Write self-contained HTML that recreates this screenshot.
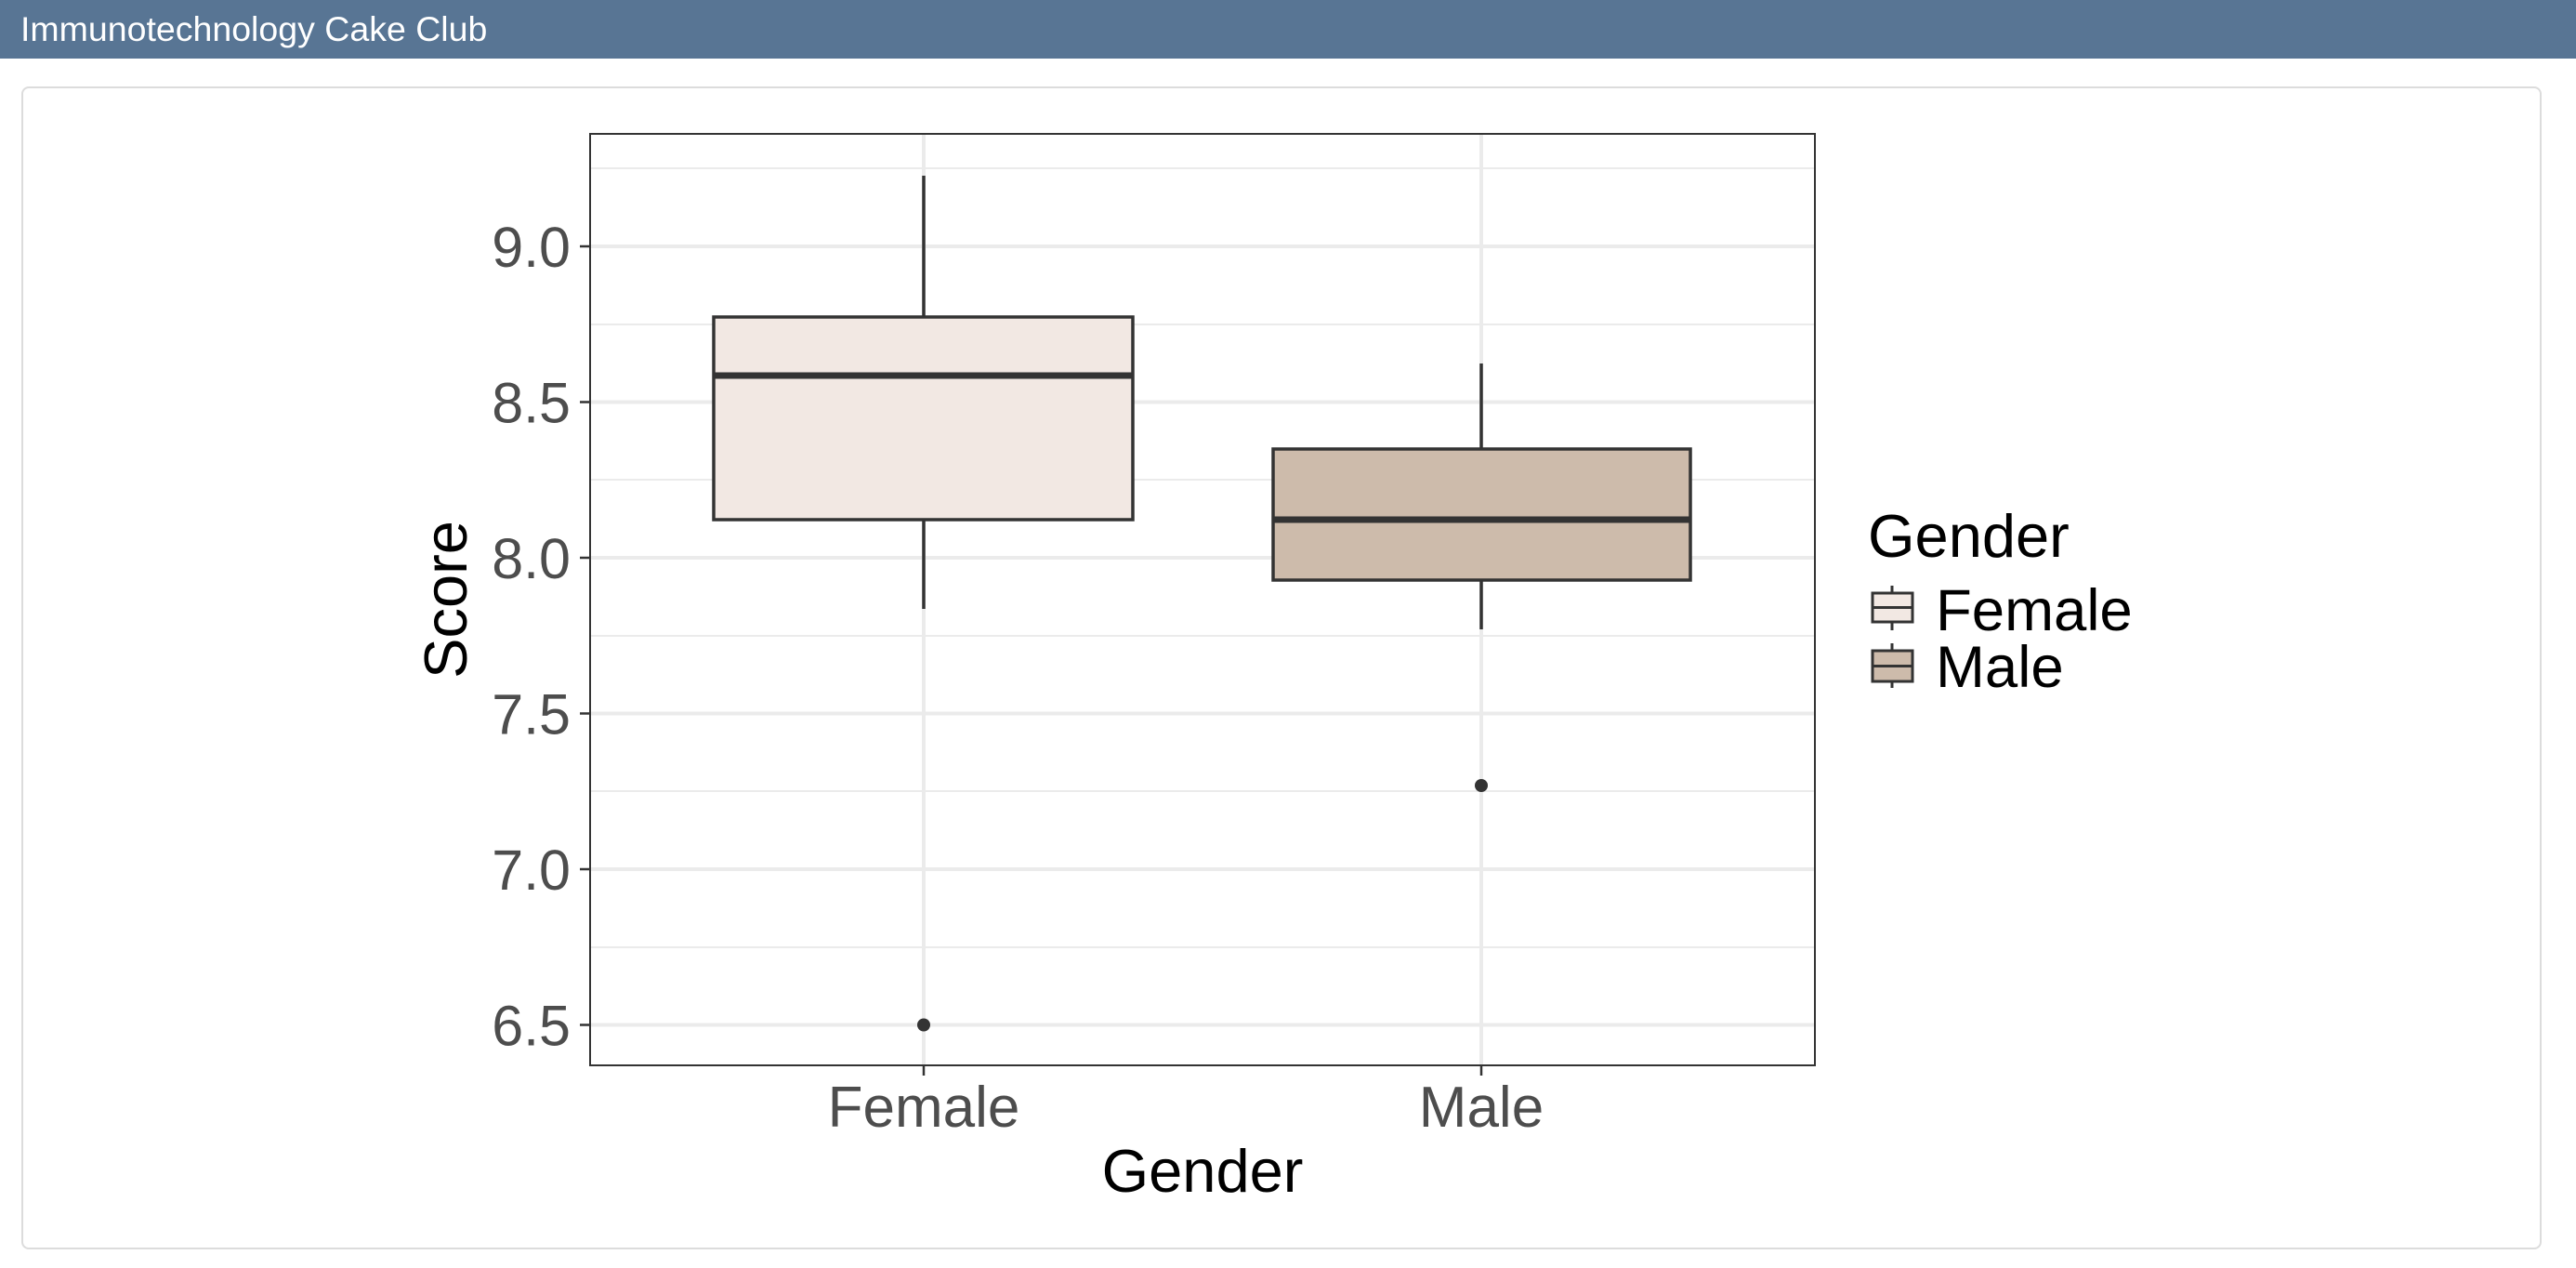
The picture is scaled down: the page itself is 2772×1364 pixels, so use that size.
<!DOCTYPE html>
<html><head><meta charset="utf-8"><style>
html,body{margin:0;padding:0;width:2772px;height:1364px;overflow:hidden;background:#fff;font-family:"Liberation Sans",Arial,sans-serif}
.hdr{position:absolute;left:0;top:0;width:2772px;height:63px;background:#587594;color:#fff;font-size:37.5px;line-height:63px;padding-left:22px;box-sizing:border-box}
.card{position:absolute;left:23px;top:93px;width:2712px;height:1251px;border:2px solid #dcdcdc;border-radius:8px;box-sizing:border-box}
svg{position:absolute;left:0;top:0}
</style></head><body>
<div class="hdr">Immunotechnology Cake Club</div>
<div class="card"></div>
<svg width="2772" height="1364" xmlns="http://www.w3.org/2000/svg" font-family="Liberation Sans, Arial, sans-serif">
<g stroke="#ebebeb" stroke-width="2">
<line x1="635" x2="1953" y1="181" y2="181"/><line x1="635" x2="1953" y1="349" y2="349"/><line x1="635" x2="1953" y1="516" y2="516"/><line x1="635" x2="1953" y1="684" y2="684"/><line x1="635" x2="1953" y1="851" y2="851"/><line x1="635" x2="1953" y1="1019" y2="1019"/>
</g>
<g stroke="#ebebeb" stroke-width="4">
<line x1="635" x2="1953" y1="265" y2="265"/><line x1="635" x2="1953" y1="432.5" y2="432.5"/><line x1="635" x2="1953" y1="600" y2="600"/><line x1="635" x2="1953" y1="767.5" y2="767.5"/><line x1="635" x2="1953" y1="935" y2="935"/><line x1="635" x2="1953" y1="1102.5" y2="1102.5"/>
<line x1="994" x2="994" y1="144" y2="1146"/><line x1="1594" x2="1594" y1="144" y2="1146"/>
</g>
<g stroke="#333" stroke-width="3.5">
<line x1="994" x2="994" y1="189" y2="341"/><line x1="994" x2="994" y1="559" y2="655"/>
<rect x="768" y="341" width="451" height="218" fill="#F2E8E3"/>
<line x1="1594" x2="1594" y1="391" y2="483"/><line x1="1594" x2="1594" y1="624" y2="677"/>
<rect x="1370" y="483" width="449" height="141" fill="#CDBBAB"/>
</g>
<g stroke="#333" stroke-width="7">
<line x1="768" x2="1219" y1="404" y2="404"/><line x1="1370" x2="1819" y1="559" y2="559"/>
</g>
<circle cx="994" cy="1102.5" r="7" fill="#333"/><circle cx="1594" cy="845" r="7" fill="#333"/>
<rect x="635" y="144" width="1318" height="1002" fill="none" stroke="#333" stroke-width="2"/>
<g stroke="#333" stroke-width="2.5">
<line x1="624" x2="635" y1="265" y2="265"/><line x1="624" x2="635" y1="432.5" y2="432.5"/><line x1="624" x2="635" y1="600" y2="600"/><line x1="624" x2="635" y1="767.5" y2="767.5"/><line x1="624" x2="635" y1="935" y2="935"/><line x1="624" x2="635" y1="1102.5" y2="1102.5"/>
<line x1="994" x2="994" y1="1146" y2="1157"/><line x1="1594" x2="1594" y1="1146" y2="1157"/>
</g>
<g fill="#4d4d4d" font-size="61" text-anchor="end">
<text x="614" y="287">9.0</text><text x="614" y="454.5">8.5</text><text x="614" y="622">8.0</text><text x="614" y="789.5">7.5</text><text x="614" y="957">7.0</text><text x="614" y="1124.5">6.5</text>
</g>
<g fill="#4d4d4d" font-size="62" text-anchor="middle">
<text x="994" y="1212">Female</text><text x="1594" y="1212">Male</text>
</g>
<text x="1294" y="1282" font-size="65" text-anchor="middle">Gender</text>
<text transform="translate(502,645) rotate(-90)" font-size="65" text-anchor="middle">Score</text>
<text x="2010" y="599" font-size="65">Gender</text>
<g stroke="#333" stroke-width="3">
<line x1="2036" x2="2036" y1="630" y2="678"/><rect x="2015" y="638" width="43" height="31" fill="#F2E8E3"/><line x1="2015" x2="2058" y1="653.5" y2="653.5"/>
<line x1="2036" x2="2036" y1="692" y2="740"/><rect x="2015" y="700" width="43" height="33" fill="#CDBBAB"/><line x1="2015" x2="2058" y1="716.5" y2="716.5"/>
</g>
<text x="2083" y="678" font-size="63.5">Female</text>
<text x="2083" y="739" font-size="63.5">Male</text>
</svg>
</body></html>
